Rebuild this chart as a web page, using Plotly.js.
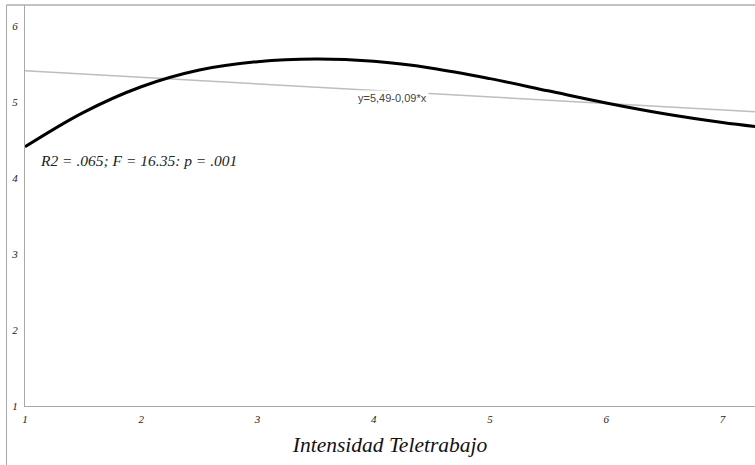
<!DOCTYPE html>
<html>
<head>
<meta charset="utf-8">
<script src="https://cdn.plot.ly/plotly-3.0.1.min.js"></script>
<style>html,body{margin:0;padding:0;background:#fff;}#chart{width:755px;height:465px;}</style>
</head>
<body>
<div id="chart"></div>
<script>
// Cubic fit curve
const curveX = [1, 1.5, 2, 2.5, 3, 3.5, 4, 4.5, 5, 5.5, 6, 6.5, 7, 7.3];
const curveY = [4.41, 4.86, 5.20, 5.42, 5.53, 5.565, 5.535, 5.445, 5.307, 5.147, 4.987, 4.845, 4.73, 4.674];
// Linear fit y = 5.49 - 0.09x (endpoints)
const linX = [1, 7.28];
const linY = [5.41, 4.87];
const xTicks = [1, 2, 3, 4, 5, 6, 7];
const yTicks = [1, 2, 3, 4, 5, 6];
const linLabel = 'y=5,49-0,09*x';
const statLabel = 'R2 = .065; F = 16.35: p = .001';
const xTitle = 'Intensidad Teletrabajo';

const serif = 'Liberation Serif, Times New Roman, serif';

const traces = [
  {x: linX, y: linY, mode: 'lines', line: {color: '#bdbdbd', width: 1.5}, hoverinfo: 'skip'},
  {x: curveX, y: curveY, mode: 'lines', line: {color: '#000000', width: 3, shape: 'spline', smoothing: 1}, hoverinfo: 'skip'}
];

const layout = {
  width: 755, height: 465,
  margin: {l: 25, r: 0, t: 5, b: 59, pad: 0},
  paper_bgcolor: '#ffffff', plot_bgcolor: '#ffffff',
  showlegend: false,
  xaxis: {
    range: [1, 7.28], tickvals: xTicks, ticktext: xTicks.map(String),
    showgrid: false, zeroline: false, showline: true, linecolor: '#a8a8a8', linewidth: 1,
    ticks: '', ticklabelstandoff: 3,
    tickfont: {family: serif, size: 11, color: '#222', style: 'italic'},
    title: {text: xTitle, font: {family: serif, size: 21.5, color: '#111', style: 'italic'}, standoff: 12}
  },
  yaxis: {
    range: [1, 6.276], tickvals: yTicks, ticktext: yTicks.map(String),
    showgrid: false, zeroline: false, showline: true, linecolor: '#a8a8a8', linewidth: 1,
    ticks: '', ticklabelstandoff: 4,
    tickfont: {family: serif, size: 11, color: '#222', style: 'italic'}
  },
  shapes: [
    {type: 'line', xref: 'paper', yref: 'paper', x0: -0.0253, x1: -0.0253, y0: -0.1471, y1: 1.0,
     line: {color: '#a8a8a8', width: 1}},
    {type: 'line', xref: 'paper', yref: 'paper', x0: -0.0253, x1: 1.0, y0: 1.0, y1: 1.0,
     line: {color: '#b4aeae', width: 1.5}}
  ],
  annotations: [
    {x: 4.16, y: 5.05, xref: 'x', yref: 'y', text: linLabel, showarrow: false,
     bgcolor: '#ffffff', borderpad: 1,
     font: {family: 'Liberation Sans, Arial, sans-serif', size: 11, color: '#444'}},
    {x: 0.018, y: (406 - 160) / 401, xref: 'paper', yref: 'paper', text: statLabel, showarrow: false,
     xanchor: 'left', font: {family: serif, size: 15.5, color: '#222', style: 'italic'}}
  ]
};

Plotly.newPlot('chart', traces, layout, {displayModeBar: false, staticPlot: true});
</script>
</body>
</html>
